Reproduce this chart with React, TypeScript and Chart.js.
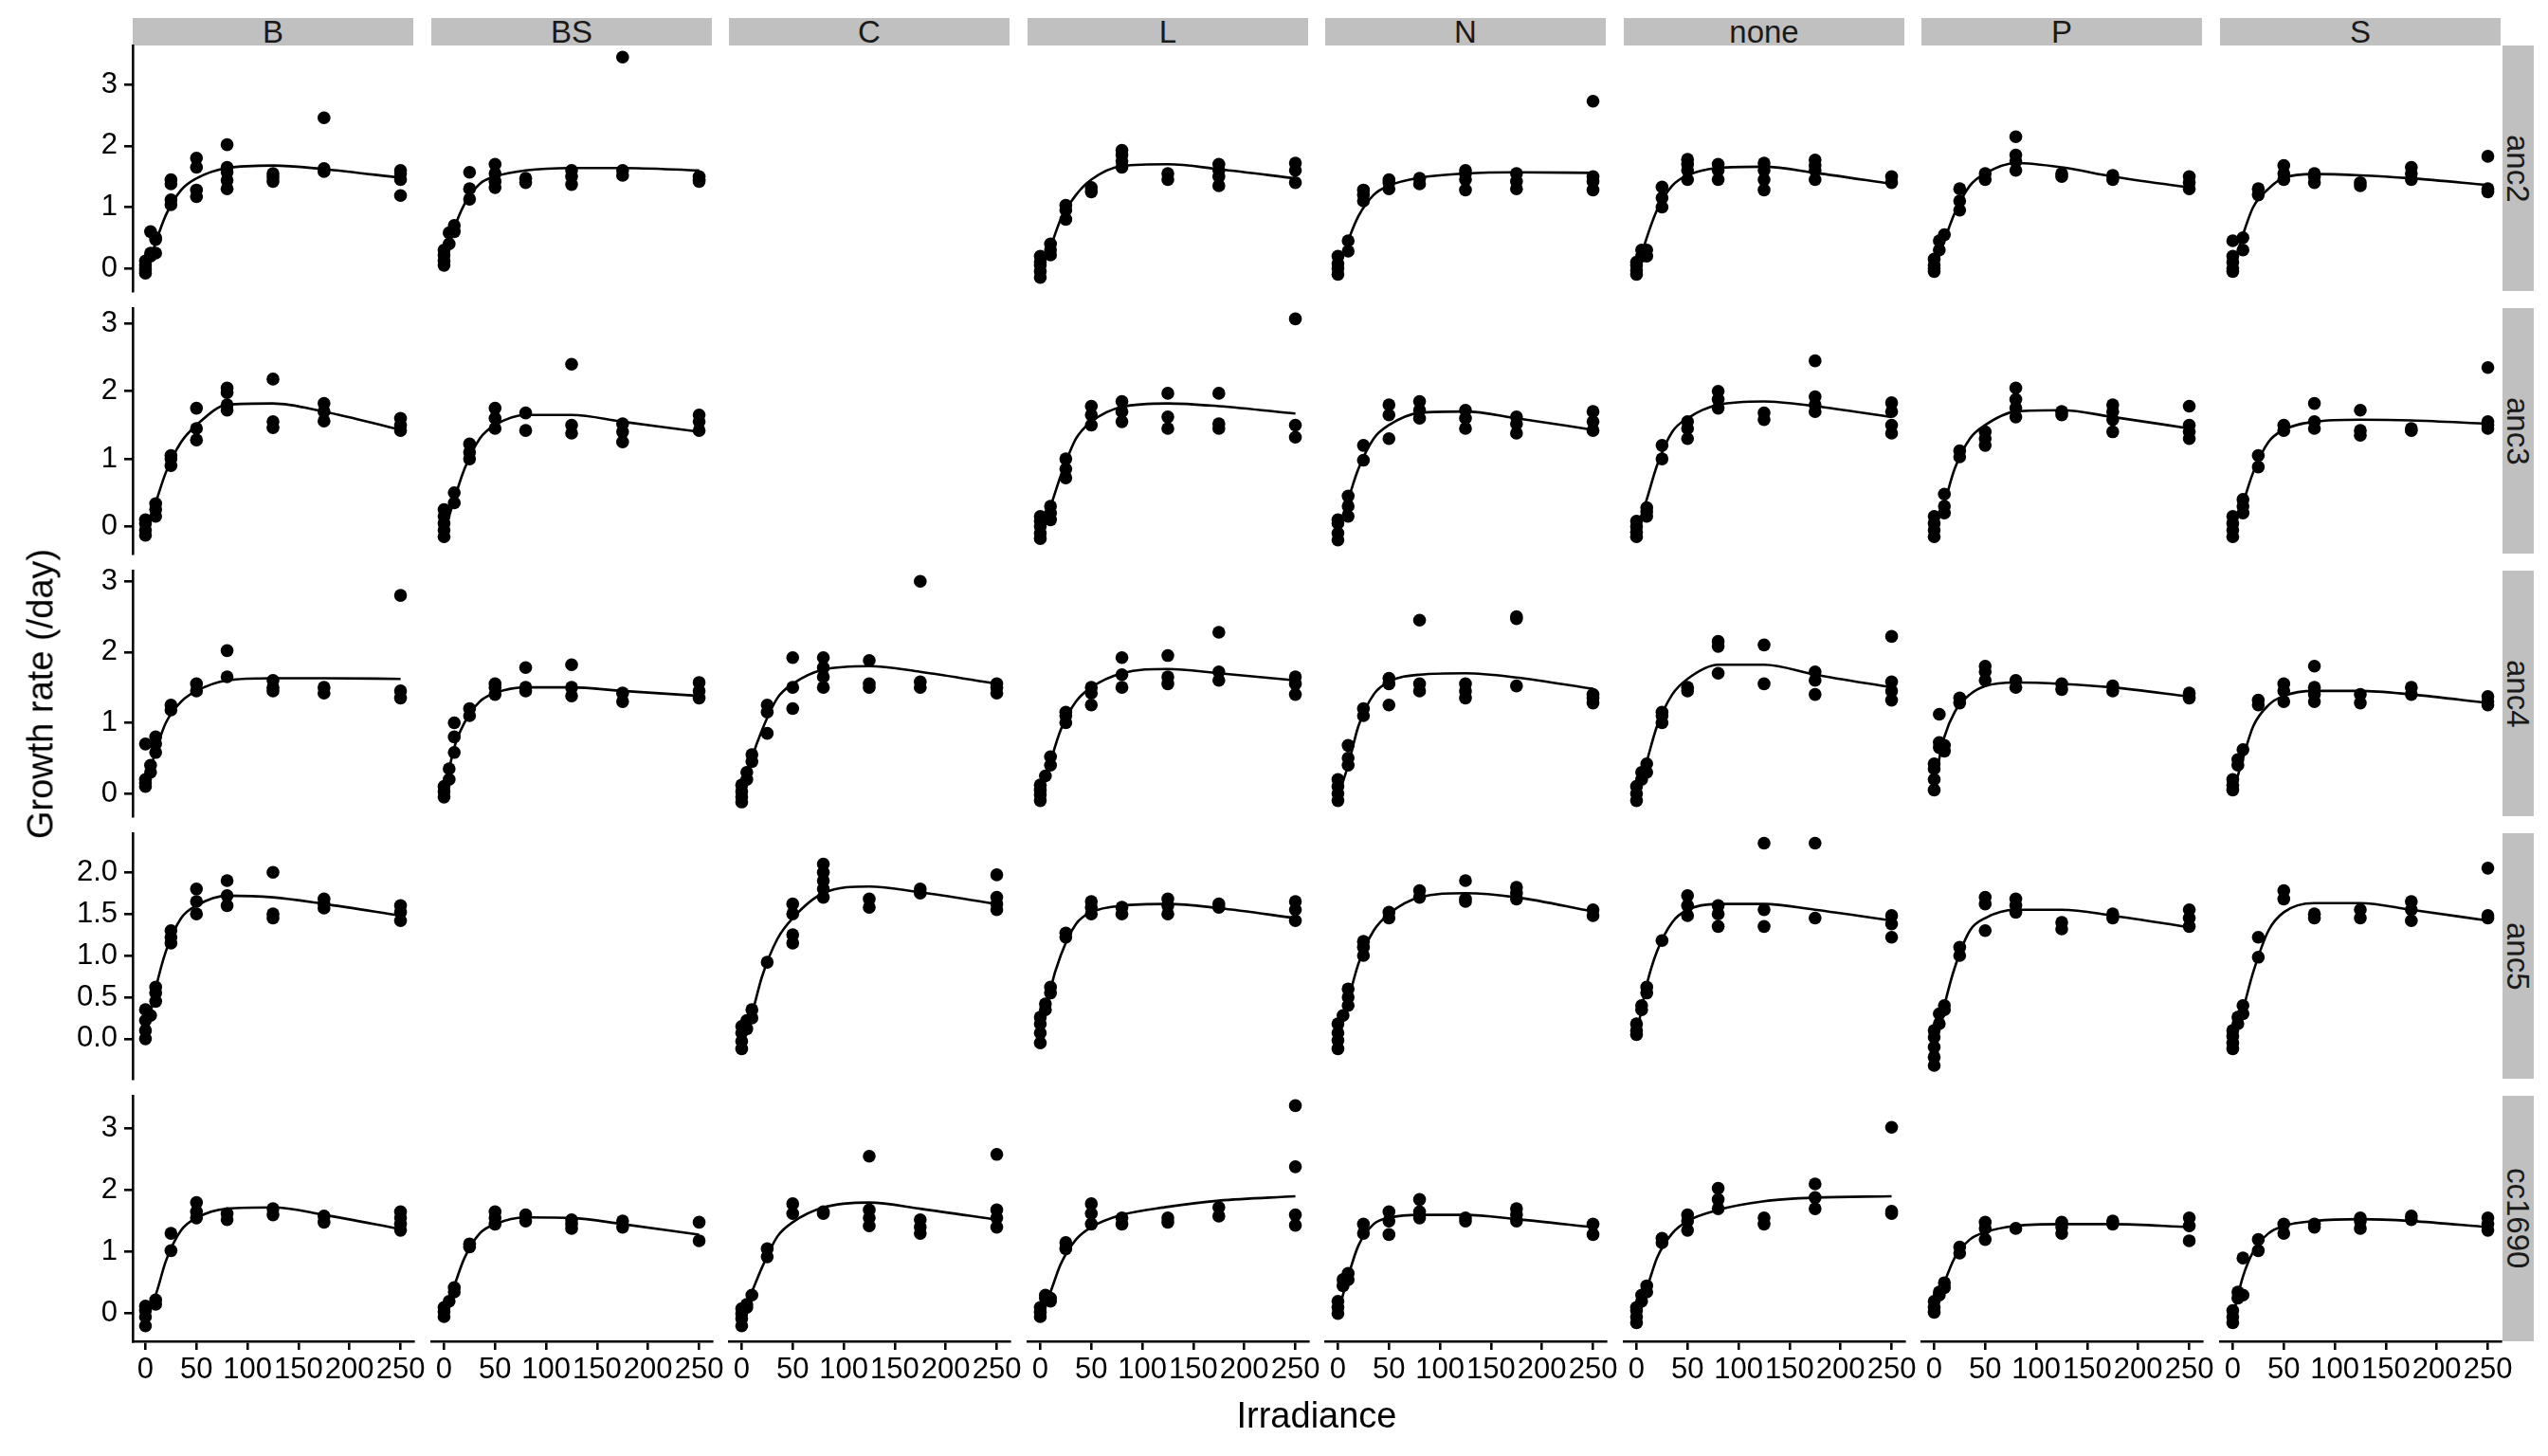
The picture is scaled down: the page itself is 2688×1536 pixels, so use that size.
import React, { useEffect, useRef } from "react";
import { Chart, registerables } from "chart.js";
Chart.register(...registerables);

// ---------- categories & ticks ----------
const strains = ["anc2", "anc3", "anc4", "anc5", "cc1690"];
const treatments = ["B", "BS", "C", "L", "N", "none", "P", "S"];
const irradianceLevels = [0, 5, 10, 25, 50, 80, 125, 175, 250];
const curveIrradiance = [0, 10, 20, 35, 50, 80, 125, 175, 250];
const xTickValues = [0, 50, 100, 150, 200, 250];
const yTicksWhole = [0, 1, 2, 3];
const yTicksHalf = [0, 0.5, 1, 1.5, 2];
const xLimits = [-12.5, 262.5];
const yLimitsAnc2 = [-0.37, 3.64];
const yLimitsAnc3 = [-0.4, 3.23];
const yLimitsAnc4 = [-0.32, 3.15];
const yLimitsAnc5 = [-0.48, 2.47];
const yLimitsCc1690 = [-0.45, 3.53];

// ---------- growth rates per irradiance level (anc2) ----------
const B_anc2 = [[-0.08, -0.03, 0.0, 0.05, 0.12], [0.2, 0.25, 0.6], [0.25, 0.47, 0.5], [1.04, 1.12, 1.38, 1.45], [1.17, 1.28, 1.65, 1.8], [1.3, 1.44, 1.57, 1.65, 2.02], [1.42, 1.49, 1.55], [1.58, 1.63, 2.46], [1.19, 1.45, 1.55, 1.6]];
const B_anc2_fit = [-0.1, 0.42, 0.87, 1.28, 1.47, 1.64, 1.68, 1.62, 1.48];
const BS_anc2 = [[0.05, 0.12, 0.22, 0.3], [0.4, 0.58], [0.6, 0.7], [1.13, 1.3, 1.57], [1.32, 1.42, 1.55, 1.7], [1.4, 1.47], [1.37, 1.5, 1.6], [1.52, 1.6, 3.45], [1.42, 1.45, 1.5]];
const BS_anc2_fit = [0.05, 0.65, 1.05, 1.38, 1.5, 1.6, 1.64, 1.64, 1.6];
const L_anc2 = [[-0.15, -0.05, 0.05, 0.1, 0.2], [], [0.22, 0.3, 0.4], [0.8, 0.95, 1.03], [1.25, 1.32], [1.65, 1.75, 1.85, 1.93], [1.45, 1.55], [1.35, 1.5, 1.6, 1.7], [1.4, 1.6, 1.72]];
const L_anc2_fit = [-0.05, 0.35, 0.8, 1.2, 1.45, 1.67, 1.7, 1.62, 1.47];
const N_anc2 = [[-0.1, 0.0, 0.08, 0.2], [], [0.28, 0.45], [1.1, 1.2, 1.28], [1.3, 1.4, 1.45], [1.38, 1.47], [1.28, 1.45, 1.55, 1.6], [1.3, 1.42, 1.55], [1.28, 1.42, 1.5, 2.73]];
const N_anc2_fit = [-0.05, 0.45, 0.85, 1.2, 1.35, 1.48, 1.55, 1.57, 1.56];
const none_anc2 = [[-0.1, -0.03, 0.05, 0.1], [0.2, 0.3], [0.2, 0.3], [1.0, 1.15, 1.33], [1.45, 1.6, 1.7, 1.78], [1.45, 1.6, 1.7], [1.28, 1.45, 1.6, 1.72], [1.45, 1.6, 1.68, 1.77], [1.4, 1.5]];
const none_anc2_fit = [-0.05, 0.5, 0.95, 1.35, 1.52, 1.64, 1.66, 1.56, 1.38];
const P_anc2 = [[-0.05, 0.0, 0.05, 0.15], [0.3, 0.45], [0.55], [0.95, 1.1, 1.3], [1.45, 1.55], [1.6, 1.75, 1.85, 2.15], [1.5, 1.55], [1.45, 1.52], [1.3, 1.4, 1.5]];
const P_anc2_fit = [-0.05, 0.45, 0.9, 1.35, 1.55, 1.72, 1.65, 1.5, 1.32];
const S_anc2 = [[-0.05, 0.0, 0.1, 0.2, 0.45], [], [0.3, 0.5], [1.2, 1.3], [1.45, 1.55, 1.68], [1.4, 1.5, 1.55], [1.35, 1.4], [1.45, 1.55, 1.65], [1.25, 1.3, 1.83]];
const S_anc2_fit = [0.0, 0.55, 1.0, 1.3, 1.48, 1.54, 1.52, 1.47, 1.36];

// ---------- anc3 ----------
const B_anc3 = [[-0.13, -0.05, 0.05, 0.1], [], [0.15, 0.25, 0.34], [0.9, 1.0, 1.05], [1.28, 1.45, 1.75], [1.72, 1.8, 1.98, 2.05], [1.46, 1.55, 2.18], [1.56, 1.7, 1.82], [1.42, 1.5, 1.6]];
const B_anc3_fit = [-0.1, 0.35, 0.8, 1.25, 1.5, 1.8, 1.82, 1.7, 1.43];
const BS_anc3 = [[-0.15, -0.05, 0.05, 0.15, 0.25], [], [0.35, 0.5], [1.0, 1.1, 1.22], [1.45, 1.6, 1.75], [1.42, 1.68], [1.38, 1.5, 2.4], [1.25, 1.4, 1.52], [1.42, 1.55, 1.65]];
const BS_anc3_fit = [-0.1, 0.4, 0.85, 1.3, 1.5, 1.65, 1.65, 1.55, 1.4];
const L_anc3 = [[-0.18, -0.1, 0.0, 0.08, 0.15], [], [0.1, 0.2, 0.3], [0.72, 0.85, 1.0], [1.5, 1.65, 1.78], [1.55, 1.7, 1.85], [1.45, 1.62, 1.97], [1.45, 1.52, 1.97], [1.32, 1.5, 3.07]];
const L_anc3_fit = [-0.05, 0.3, 0.75, 1.3, 1.55, 1.77, 1.82, 1.78, 1.67];
const N_anc3 = [[-0.2, -0.1, 0.05, 0.1], [], [0.15, 0.3, 0.45], [0.98, 1.2], [1.3, 1.65, 1.8], [1.6, 1.72, 1.85], [1.45, 1.6, 1.72], [1.38, 1.52, 1.62], [1.42, 1.55, 1.7]];
const N_anc3_fit = [-0.05, 0.4, 0.85, 1.3, 1.5, 1.68, 1.7, 1.6, 1.43];
const none_anc3 = [[-0.15, -0.08, 0.0, 0.08], [], [0.15, 0.22, 0.28], [1.0, 1.2], [1.3, 1.45, 1.55], [1.75, 1.88, 2.0], [1.58, 1.68], [1.7, 1.8, 1.92, 2.45], [1.38, 1.5, 1.7, 1.83]];
const none_anc3_fit = [-0.05, 0.4, 0.9, 1.4, 1.6, 1.8, 1.85, 1.78, 1.62];
const P_anc3 = [[-0.15, -0.05, 0.05, 0.15], [], [0.2, 0.3, 0.48], [1.03, 1.12], [1.2, 1.3, 1.4], [1.62, 1.75, 1.88, 2.05], [1.65, 1.7], [1.4, 1.58, 1.7, 1.8], [1.3, 1.4, 1.5, 1.78]];
const P_anc3_fit = [-0.05, 0.35, 0.85, 1.3, 1.5, 1.7, 1.72, 1.62, 1.45];
const S_anc3 = [[-0.15, -0.05, 0.05, 0.15], [], [0.2, 0.3, 0.4], [0.88, 1.05], [1.42, 1.5], [1.45, 1.55, 1.82], [1.35, 1.42, 1.72], [1.42, 1.45], [1.45, 1.5, 1.55, 2.35]];
const S_anc3_fit = [-0.05, 0.35, 0.8, 1.25, 1.43, 1.55, 1.58, 1.57, 1.52];

// ---------- anc4 ----------
const B_anc4 = [[0.1, 0.15, 0.2, 0.7], [0.3, 0.4], [0.58, 0.7, 0.8], [1.18, 1.25], [1.45, 1.55], [1.65, 2.02], [1.45, 1.5, 1.6], [1.42, 1.5], [1.35, 1.45, 2.8]];
const B_anc4_fit = [0.1, 0.6, 1.0, 1.3, 1.45, 1.6, 1.63, 1.63, 1.62];
const BS_anc4 = [[-0.05, 0.03, 0.1], [0.2, 0.35], [0.58, 0.8, 1.0], [1.1, 1.2], [1.4, 1.5, 1.55], [1.45, 1.5, 1.78], [1.38, 1.5, 1.82], [1.3, 1.42], [1.35, 1.45, 1.57]];
const BS_anc4_fit = [0.0, 0.65, 1.0, 1.3, 1.42, 1.5, 1.5, 1.45, 1.38];
const C_anc4 = [[-0.12, -0.05, 0.03, 0.12], [0.2, 0.3], [0.45, 0.55], [0.85, 1.15, 1.25], [1.2, 1.5, 1.92], [1.5, 1.65, 1.78, 1.92], [1.5, 1.55, 1.88], [1.5, 1.58, 3.0], [1.42, 1.5, 1.55]];
const C_anc4_fit = [-0.05, 0.5, 0.9, 1.35, 1.55, 1.75, 1.8, 1.72, 1.55];
const L_anc4 = [[-0.1, -0.02, 0.05, 0.12], [0.25], [0.4, 0.52], [1.0, 1.1, 1.15], [1.25, 1.42, 1.5], [1.5, 1.68, 1.92], [1.55, 1.65, 1.95], [1.6, 1.72, 2.28], [1.4, 1.55, 1.65]];
const L_anc4_fit = [-0.05, 0.45, 0.9, 1.3, 1.5, 1.7, 1.76, 1.7, 1.6];
const N_anc4 = [[-0.1, 0.0, 0.1, 0.2], [], [0.4, 0.5, 0.68], [1.1, 1.2], [1.25, 1.55, 1.63], [1.45, 1.55, 2.45], [1.35, 1.45, 1.55], [1.52, 2.47, 2.5], [1.28, 1.35, 1.4]];
const N_anc4_fit = [-0.05, 0.4, 0.95, 1.4, 1.58, 1.68, 1.7, 1.64, 1.48];
const none_anc4 = [[-0.1, 0.0, 0.1], [0.2, 0.3], [0.3, 0.42], [1.0, 1.1, 1.15], [1.45, 1.5], [1.7, 2.08, 2.15], [1.55, 2.1], [1.4, 1.6, 1.72], [1.32, 1.45, 1.58, 2.22]];
const none_anc4_fit = [-0.05, 0.45, 0.95, 1.4, 1.62, 1.82, 1.82, 1.68, 1.5];
const P_anc4 = [[0.05, 0.2, 0.35, 0.42], [0.65, 0.72, 1.12], [0.6, 0.68], [1.28, 1.35], [1.6, 1.72, 1.8], [1.5, 1.6], [1.47, 1.55], [1.45, 1.52], [1.35, 1.42]];
const P_anc4_fit = [0.15, 0.8, 1.15, 1.4, 1.52, 1.57, 1.55, 1.5, 1.37];
const S_anc4 = [[0.05, 0.12, 0.2], [0.4, 0.48], [0.62], [1.25, 1.32], [1.3, 1.45, 1.55], [1.3, 1.4, 1.5, 1.8], [1.28, 1.4], [1.4, 1.5], [1.25, 1.3, 1.37]];
const S_anc4_fit = [0.0, 0.5, 0.95, 1.25, 1.38, 1.45, 1.45, 1.4, 1.28];

// ---------- anc5 ----------
const B_anc5 = [[0.0, 0.1, 0.22, 0.35], [0.28], [0.45, 0.55, 0.62], [1.15, 1.22, 1.3], [1.5, 1.65, 1.8], [1.6, 1.72, 1.9], [1.45, 1.5, 2.0], [1.57, 1.62, 1.68], [1.42, 1.52, 1.6]];
const B_anc5_fit = [0.0, 0.6, 1.05, 1.45, 1.6, 1.72, 1.7, 1.62, 1.48];
const C_anc5 = [[-0.12, -0.03, 0.07, 0.15], [0.12, 0.22], [0.25, 0.35], [0.92], [1.15, 1.25, 1.5, 1.62], [1.7, 1.8, 1.9, 2.0, 2.1], [1.58, 1.68], [1.75, 1.8], [1.55, 1.62, 1.7, 1.97]];
const C_anc5_fit = [-0.05, 0.3, 0.75, 1.2, 1.45, 1.75, 1.83, 1.76, 1.62];
const L_anc5 = [[-0.05, 0.07, 0.18, 0.26], [0.35, 0.42], [0.55, 0.62], [1.22, 1.27], [1.5, 1.58, 1.65], [1.5, 1.58], [1.5, 1.6, 1.68], [1.58, 1.62], [1.42, 1.55, 1.65]];
const L_anc5_fit = [-0.05, 0.6, 1.0, 1.38, 1.52, 1.6, 1.62, 1.57, 1.45];
const N_anc5 = [[-0.12, -0.02, 0.07, 0.18], [0.28], [0.4, 0.5, 0.6], [1.0, 1.1, 1.17], [1.45, 1.52], [1.7, 1.78], [1.65, 1.68, 1.9], [1.68, 1.75, 1.82], [1.48, 1.55]];
const N_anc5_fit = [-0.05, 0.45, 0.9, 1.3, 1.5, 1.7, 1.75, 1.7, 1.53];
const none_anc5 = [[0.05, 0.1, 0.18], [0.35, 0.4], [0.55, 0.62], [1.18], [1.48, 1.6, 1.72], [1.35, 1.5, 1.6], [1.35, 1.55, 2.35], [1.45, 2.35], [1.22, 1.38, 1.48]];
const none_anc5_fit = [0.05, 0.65, 1.05, 1.4, 1.55, 1.62, 1.62, 1.55, 1.42];
const P_anc5 = [[-0.32, -0.22, -0.1, 0.02, 0.1], [0.18, 0.3], [0.35, 0.4], [1.0, 1.1], [1.3, 1.62, 1.7], [1.52, 1.6, 1.68], [1.32, 1.4], [1.45, 1.5], [1.35, 1.45, 1.55]];
const P_anc5_fit = [-0.15, 0.4, 0.85, 1.3, 1.45, 1.55, 1.55, 1.48, 1.34];
const S_anc5 = [[-0.12, -0.05, 0.03, 0.1], [0.18, 0.26], [0.3, 0.4], [0.98, 1.22], [1.68, 1.78], [1.45, 1.5], [1.45, 1.55], [1.42, 1.55, 1.65], [1.45, 1.48, 2.05]];
const S_anc5_fit = [-0.05, 0.35, 0.8, 1.3, 1.52, 1.63, 1.63, 1.55, 1.42];

// ---------- cc1690 ----------
const B_cc1690 = [[-0.2, -0.05, 0.05, 0.12], [], [0.15, 0.22], [1.02, 1.3], [1.55, 1.65, 1.8], [1.52, 1.62], [1.6, 1.7], [1.48, 1.58], [1.35, 1.45, 1.55, 1.65]];
const B_cc1690_fit = [-0.05, 0.3, 0.85, 1.35, 1.55, 1.7, 1.72, 1.6, 1.37];
const BS_cc1690 = [[-0.05, 0.03, 0.1], [0.2], [0.35, 0.42], [1.08, 1.13], [1.45, 1.55, 1.65], [1.5, 1.6], [1.38, 1.45, 1.52], [1.4, 1.5], [1.18, 1.48]];
const BS_cc1690_fit = [0.0, 0.45, 0.9, 1.3, 1.45, 1.56, 1.55, 1.45, 1.28];
const C_cc1690 = [[-0.2, -0.08, 0.0, 0.08], [0.1, 0.15], [0.3], [0.92, 1.05], [1.62, 1.78], [1.62, 1.65], [1.42, 1.55, 1.68, 2.55], [1.3, 1.4, 1.52], [1.4, 1.55, 1.68, 2.58]];
const C_cc1690_fit = [-0.05, 0.35, 0.75, 1.25, 1.48, 1.72, 1.8, 1.7, 1.52];
const L_cc1690 = [[-0.05, 0.02, 0.1], [0.25, 0.3], [0.2, 0.25], [1.05, 1.15], [1.45, 1.62, 1.78], [1.45, 1.55], [1.48, 1.55], [1.58, 1.72], [1.43, 1.6, 2.38, 3.37]];
const L_cc1690_fit = [-0.05, 0.35, 0.8, 1.2, 1.4, 1.6, 1.73, 1.83, 1.9];
const N_cc1690 = [[0.0, 0.1, 0.2], [0.45, 0.55], [0.55, 0.65], [1.3, 1.45], [1.28, 1.5, 1.65], [1.55, 1.65, 1.85], [1.5, 1.55], [1.5, 1.6, 1.7], [1.28, 1.45]];
const N_cc1690_fit = [0.0, 0.6, 1.1, 1.45, 1.55, 1.6, 1.6, 1.53, 1.4];
const none_cc1690 = [[-0.15, -0.05, 0.05, 0.1], [0.2, 0.3], [0.35, 0.45], [1.15, 1.22], [1.35, 1.5, 1.6], [1.7, 1.85, 2.03], [1.45, 1.55], [1.7, 1.88, 2.1], [1.62, 1.66, 3.02]];
const none_cc1690_fit = [-0.05, 0.4, 0.9, 1.3, 1.5, 1.68, 1.82, 1.88, 1.9];
const P_cc1690 = [[0.02, 0.1, 0.2], [0.3, 0.35], [0.42, 0.5], [0.98, 1.08], [1.2, 1.38, 1.48], [1.38], [1.3, 1.4, 1.48], [1.45, 1.5], [1.18, 1.42, 1.55]];
const P_cc1690_fit = [0.0, 0.5, 0.9, 1.2, 1.32, 1.42, 1.45, 1.45, 1.4];
const S_cc1690 = [[-0.15, -0.05, 0.05], [0.25, 0.35], [0.3, 0.9], [1.02, 1.2], [1.3, 1.45], [1.4, 1.45], [1.38, 1.5, 1.55], [1.52, 1.58], [1.35, 1.45, 1.55]];
const S_cc1690_fit = [-0.05, 0.6, 1.0, 1.3, 1.42, 1.5, 1.53, 1.5, 1.4];

// ---------- lookup tables ----------
const panelTable: Record<string, [number[][], number[]] | null> = {
  "anc2|B": [B_anc2, B_anc2_fit], "anc2|BS": [BS_anc2, BS_anc2_fit], "anc2|C": null, "anc2|L": [L_anc2, L_anc2_fit],
  "anc2|N": [N_anc2, N_anc2_fit], "anc2|none": [none_anc2, none_anc2_fit], "anc2|P": [P_anc2, P_anc2_fit], "anc2|S": [S_anc2, S_anc2_fit],
  "anc3|B": [B_anc3, B_anc3_fit], "anc3|BS": [BS_anc3, BS_anc3_fit], "anc3|C": null, "anc3|L": [L_anc3, L_anc3_fit],
  "anc3|N": [N_anc3, N_anc3_fit], "anc3|none": [none_anc3, none_anc3_fit], "anc3|P": [P_anc3, P_anc3_fit], "anc3|S": [S_anc3, S_anc3_fit],
  "anc4|B": [B_anc4, B_anc4_fit], "anc4|BS": [BS_anc4, BS_anc4_fit], "anc4|C": [C_anc4, C_anc4_fit], "anc4|L": [L_anc4, L_anc4_fit],
  "anc4|N": [N_anc4, N_anc4_fit], "anc4|none": [none_anc4, none_anc4_fit], "anc4|P": [P_anc4, P_anc4_fit], "anc4|S": [S_anc4, S_anc4_fit],
  "anc5|B": [B_anc5, B_anc5_fit], "anc5|BS": null, "anc5|C": [C_anc5, C_anc5_fit], "anc5|L": [L_anc5, L_anc5_fit],
  "anc5|N": [N_anc5, N_anc5_fit], "anc5|none": [none_anc5, none_anc5_fit], "anc5|P": [P_anc5, P_anc5_fit], "anc5|S": [S_anc5, S_anc5_fit],
  "cc1690|B": [B_cc1690, B_cc1690_fit], "cc1690|BS": [BS_cc1690, BS_cc1690_fit], "cc1690|C": [C_cc1690, C_cc1690_fit], "cc1690|L": [L_cc1690, L_cc1690_fit],
  "cc1690|N": [N_cc1690, N_cc1690_fit], "cc1690|none": [none_cc1690, none_cc1690_fit], "cc1690|P": [P_cc1690, P_cc1690_fit], "cc1690|S": [S_cc1690, S_cc1690_fit],
};
const rowLimits = [yLimitsAnc2, yLimitsAnc3, yLimitsAnc4, yLimitsAnc5, yLimitsCc1690];
const rowTicks = [yTicksWhole, yTicksWhole, yTicksWhole, yTicksHalf, yTicksWhole];

// ---------- layout ----------
const FONT = "'Liberation Sans', Arial, Helvetica, sans-serif";
const PANEL_W = 296;
const PANEL_H = 259;
const COL_PITCH = 314.5;
const ROW_PITCH = 277;
const LEFT0 = 140;
const TOP0 = 48;
const Y_AXIS_W = 140;
const X_AXIS_H = 70;
const PAD = 30;
const LINE_W = 2.6;
const TICK_FONT = 31;
const POINT_R = 6.8;
const colLeft = (c: number) => Math.round(LEFT0 + c * COL_PITCH);
const rowTop = (r: number) => Math.round(TOP0 + r * ROW_PITCH);

function Panel({ row, col }: { row: number; col: number }) {
  const ref = useRef<HTMLCanvasElement | null>(null);
  const isLeft = col === 0;
  const isBottom = row === strains.length - 1;
  const left = colLeft(col) - (isLeft ? Y_AXIS_W : 0) - PAD;
  const top = rowTop(row) - PAD;
  const width = PANEL_W + (isLeft ? Y_AXIS_W : 0) + 2 * PAD;
  const height = PANEL_H + (isBottom ? X_AXIS_H : 0) + 2 * PAD;

  useEffect(() => {
    if (!ref.current) return;
    const entry = panelTable[`${strains[row]}|${treatments[col]}`];
    const groups = entry ? entry[0] : [];
    const fit = entry ? entry[1] : [];
    const pts: { x: number; y: number }[] = [];
    groups.forEach((vals, i) => vals.forEach((v) => pts.push({ x: irradianceLevels[i], y: v })));
    const fitPts = fit.map((v, i) => ({ x: curveIrradiance[i], y: v }));
    const lim = rowLimits[row];
    const yTickVals = rowTicks[row];
    const half = yTickVals === yTicksHalf;

    const axisCommon = {
      grid: {
        display: true,
        drawOnChartArea: false,
        drawTicks: true,
        tickLength: 9,
        color: "#000",
        tickColor: "#000",
        lineWidth: LINE_W,
        tickWidth: LINE_W,
      },
      border: { display: true, color: "#000", width: LINE_W },
    };

    const chart = new Chart(ref.current, {
      type: "scatter",
      data: {
        datasets: [
          {
            type: "line",
            data: fitPts,
            borderColor: "#000",
            borderWidth: LINE_W,
            pointRadius: 0,
            showLine: true,
            fill: false,
            cubicInterpolationMode: "monotone",
            order: 0,
          } as any,
          {
            type: "scatter",
            data: pts,
            backgroundColor: "#000",
            borderColor: "#000",
            borderWidth: 0,
            pointRadius: POINT_R,
            pointHoverRadius: POINT_R,
            order: 1,
          } as any,
        ],
      },
      options: {
        responsive: false,
        maintainAspectRatio: false,
        animation: false,
        events: [],
        layout: { padding: PAD },
        plugins: { legend: { display: false }, tooltip: { enabled: false }, title: { display: false } },
        scales: {
          x: {
            type: "linear",
            min: xLimits[0],
            max: xLimits[1],
            display: isBottom,
            afterBuildTicks: (s: any) => {
              s.ticks = xTickValues.map((v) => ({ value: v }));
            },
            afterFit: (s: any) => {
              s.height = isBottom ? X_AXIS_H : 0;
            },
            ticks: {
              autoSkip: false,
              maxRotation: 0,
              minRotation: 0,
              padding: 3,
              color: "#000",
              font: { family: FONT, size: TICK_FONT },
              callback: (v: any) => String(v),
            },
            ...axisCommon,
          },
          y: {
            type: "linear",
            min: lim[0],
            max: lim[1],
            display: isLeft,
            afterBuildTicks: (s: any) => {
              s.ticks = yTickVals.map((v) => ({ value: v }));
            },
            afterFit: (s: any) => {
              s.width = isLeft ? Y_AXIS_W : 0;
            },
            ticks: {
              autoSkip: false,
              padding: 7,
              color: "#000",
              font: { family: FONT, size: TICK_FONT },
              callback: (v: any) => (half ? Number(v).toFixed(1) : String(v)),
            },
            ...axisCommon,
          },
        },
      } as any,
    });
    return () => chart.destroy();
  }, [row, col]);

  return (
    <canvas
      ref={ref}
      width={width}
      height={height}
      style={{ position: "absolute", left, top, width, height }}
    />
  );
}

export default function App() {
  const panels: React.ReactNode[] = [];
  strains.forEach((s, r) => {
    treatments.forEach((t, c) => {
      const entry = panelTable[`${s}|${t}`];
      const edge = c === 0 || r === strains.length - 1;
      if (entry || edge) panels.push(<Panel key={`${s}-${t}`} row={r} col={c} />);
    });
  });
  const rightEdge = colLeft(treatments.length - 1) + PANEL_W;
  const bottomEdge = rowTop(strains.length - 1) + PANEL_H;
  return (
    <div
      style={{
        position: "absolute",
        left: 0,
        top: 0,
        width: 2688,
        height: 1536,
        background: "#fff",
        overflow: "hidden",
        fontFamily: FONT,
      }}
    >
      {treatments.map((t, c) => (
        <div
          key={`strip-${t}`}
          style={{
            position: "absolute",
            left: colLeft(c),
            top: 19,
            width: PANEL_W,
            height: 29,
            background: "#c0c0c0",
            color: "#1a1a1a",
            fontSize: 33,
            lineHeight: "30px",
            textAlign: "center",
            overflow: "hidden",
          }}
        >
          {t}
        </div>
      ))}
      {strains.map((s, r) => (
        <div
          key={`rstrip-${s}`}
          style={{
            position: "absolute",
            left: rightEdge + 2,
            top: rowTop(r),
            width: 33,
            height: PANEL_H,
            background: "#c0c0c0",
            color: "#1a1a1a",
            fontSize: 33,
            display: "flex",
            alignItems: "center",
            justifyContent: "center",
            overflow: "hidden",
          }}
        >
          <span style={{ writingMode: "vertical-rl", lineHeight: "33px" }}>{s}</span>
        </div>
      ))}
      {panels}
      <div
        style={{
          position: "absolute",
          left: 43,
          top: (TOP0 + bottomEdge) / 2,
          transform: "translate(-50%, -50%) rotate(-90deg)",
          whiteSpace: "nowrap",
          fontSize: 38,
          color: "#000",
        }}
      >
        Growth rate (/day)
      </div>
      <div
        style={{
          position: "absolute",
          left: (LEFT0 + rightEdge) / 2,
          top: 1493,
          transform: "translate(-50%, -50%)",
          whiteSpace: "nowrap",
          fontSize: 38,
          color: "#000",
        }}
      >
        Irradiance
      </div>
    </div>
  );
}
